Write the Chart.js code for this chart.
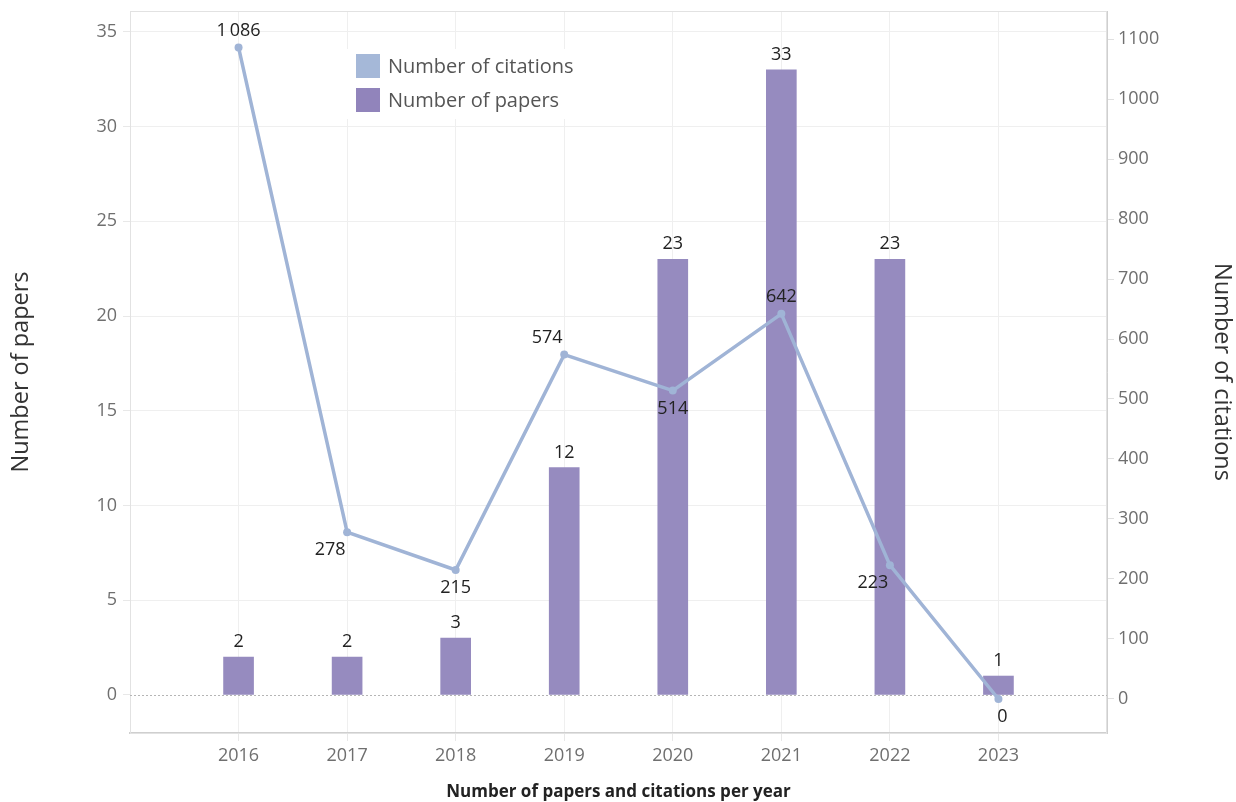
<!DOCTYPE html>
<html>
<head>
<meta charset="utf-8">
<script src="https://cdn.jsdelivr.net/npm/chart.js@4.4.1/dist/chart.umd.min.js"></script>
<style>
  html, body { margin: 0; padding: 0; background: #fff; }
</style>
</head>
<body>
<canvas id="chart" width="1236" height="802"></canvas>
<script>
const years = [2016, 2017, 2018, 2019, 2020, 2021, 2022, 2023];
const papers = [2, 2, 3, 12, 23, 33, 23, 1];
const citations = [1086, 278, 215, 574, 514, 642, 223, 0];
const citationLabelSide = ["above", "below-left", "below", "above-left", "below", "above", "below-left", "below"];

const barColor = "#968bbf";
const lineColor = "#a0b4d6";
const fontFamily = "'Open Sans', 'Noto Sans', sans-serif";

function fmtThousands(v) {
  return String(v).replace(/\B(?=(\d{3})+(?!\d))/g, "\u2009");
}

function noPad(scale) {
  scale.paddingTop = 0;
  scale.paddingBottom = 0;
  scale.paddingLeft = 0;
  scale.paddingRight = 0;
}

const frame = {
  id: "frame",
  beforeDatasetsDraw(chart) {
    const { ctx, chartArea: a, scales } = chart;
    ctx.save();
    ctx.strokeStyle = "#e2e2e2";
    ctx.lineWidth = 1;
    ctx.strokeRect(a.left + 0.5, a.top + 0.5, a.right - a.left - 1, a.bottom - a.top);
    // dotted zero line
    const y0 = Math.round(scales.y.getPixelForValue(0)) + 0.5;
    ctx.strokeStyle = "#b5b5b5";
    ctx.setLineDash([2, 2]);
    ctx.beginPath();
    ctx.moveTo(a.left, y0);
    ctx.lineTo(a.right, y0);
    ctx.stroke();
    ctx.restore();
  },
  afterDraw(chart) {
    const { ctx } = chart;
    ctx.save();
    // legend
    ctx.fillStyle = "rgba(255,255,255,0.97)";
    ctx.fillRect(346, 49, 244, 70);
    ctx.fillStyle = "#a5b8d8";
    ctx.fillRect(356, 54, 24, 24);
    ctx.fillStyle = "#9184bb";
    ctx.fillRect(356, 88, 24, 24);
    ctx.fillStyle = "#555";
    ctx.font = "20px " + fontFamily;
    ctx.textBaseline = "middle";
    ctx.textAlign = "left";
    ctx.fillText("Number of citations", 388, 67);
    ctx.fillText("Number of papers", 388, 101);

    // value labels
    ctx.fillStyle = "#222";
    ctx.font = "18px " + fontFamily;
    ctx.textAlign = "center";
    const barMeta = chart.getDatasetMeta(1);
    barMeta.data.forEach((el, i) => {
      ctx.fillText(String(papers[i]), el.x, el.y - 15);
    });
    const lineMeta = chart.getDatasetMeta(0);
    lineMeta.data.forEach((el, i) => {
      const side = citationLabelSide[i];
      let dx = 0, dy = side.startsWith("above") ? -17 : 18;
      if (side.endsWith("left")) dx = -17;
      if (i === citations.length - 1) dx = 4;
      ctx.fillText(fmtThousands(citations[i]), el.x + dx, el.y + dy);
    });
    ctx.restore();
  }
};

const ctx = document.getElementById("chart").getContext("2d");
const chart = new Chart(ctx, {
  data: {
    datasets: [
      {
        type: "line",
        label: "Number of citations",
        data: years.map((y, i) => ({ x: y, y: citations[i] })),
        yAxisID: "y1",
        borderColor: lineColor,
        backgroundColor: lineColor,
        borderWidth: 3.5,
        pointRadius: 4,
        pointBackgroundColor: lineColor,
        pointBorderWidth: 0,
        tension: 0,
        order: 0,
      },
      {
        type: "bar",
        label: "Number of papers",
        data: years.map((y, i) => ({ x: y, y: papers[i] })),
        yAxisID: "y",
        backgroundColor: barColor,
        barThickness: 30,
        order: 1,
      },
    ],
  },
  options: {
    responsive: false,
    animation: false,
    layout: { padding: { top: 11, left: 0, right: 0, bottom: 0 } },
    scales: {
      x: {
        type: "linear",
        min: 2015,
        max: 2024,
        offset: false,
        afterFit(scale) { scale.height = 69; noPad(scale); },
        ticks: {
          stepSize: 1,
          autoSkip: false,
          maxRotation: 0,
          padding: 4,
          color: "#6f6f6f",
          font: { family: fontFamily, size: 18 },
          callback: (v) => (v === 2015 || v === 2024 ? "" : String(v)),
        },
        grid: {
          offset: false,
          color: "#efefef",
          tickLength: 8,
          tickColor: (c) => (c.tick && (c.tick.value === 2015 || c.tick.value === 2024) ? "rgba(0,0,0,0)" : "#e8e8e8"),
        },
        border: { color: "#cfcfcf", width: 2 },
        title: {
          display: true,
          text: "Number of papers and citations per year",
          color: "#222",
          font: { family: fontFamily, size: 17, weight: "bold" },
          padding: { top: 0, bottom: 0 },
        },
      },
      y: {
        position: "left",
        min: -2.006,
        max: 36.1,
        afterFit(scale) { scale.width = 130; noPad(scale); },
        afterBuildTicks(scale) {
          scale.ticks = [0, 5, 10, 15, 20, 25, 30, 35].map((v) => ({ value: v }));
        },
        ticks: {
          padding: 6,
          color: "#6f6f6f",
          font: { family: fontFamily, size: 18 },
        },
        grid: {
          color: (c) => (c.tick && c.tick.value === 0 ? "rgba(0,0,0,0)" : "#efefef"),
          tickLength: 7,
          tickColor: "#e8e8e8",
        },
        border: { color: "#e2e2e2" },
        title: {
          display: true,
          text: "Number of papers",
          color: "#333",
          font: { family: fontFamily, size: 23.5 },
          padding: { top: 7, bottom: 0 },
        },
      },
      y1: {
        position: "right",
        min: -56.7,
        max: 1146.7,
        afterFit(scale) { scale.width = 129; noPad(scale); },
        afterBuildTicks(scale) {
          const t = [];
          for (let v = 0; v <= 1100; v += 100) t.push({ value: v });
          scale.ticks = t;
        },
        ticks: {
          padding: 4,
          color: "#6f6f6f",
          font: { family: fontFamily, size: 18 },
          callback: (v) => String(v),
        },
        grid: {
          drawOnChartArea: false,
          tickLength: 7,
          tickColor: "#e0e0e0",
        },
        border: { color: "#cfcfcf" },
        title: {
          display: true,
          text: "Number of citations",
          color: "#333",
          font: { family: fontFamily, size: 23.5 },
          padding: { top: 0, bottom: 0 },
        },
      },
    },
    plugins: {
      legend: { display: false },
      tooltip: { enabled: false },
    },
  },
  plugins: [frame],
});
</script>
</body>
</html>
